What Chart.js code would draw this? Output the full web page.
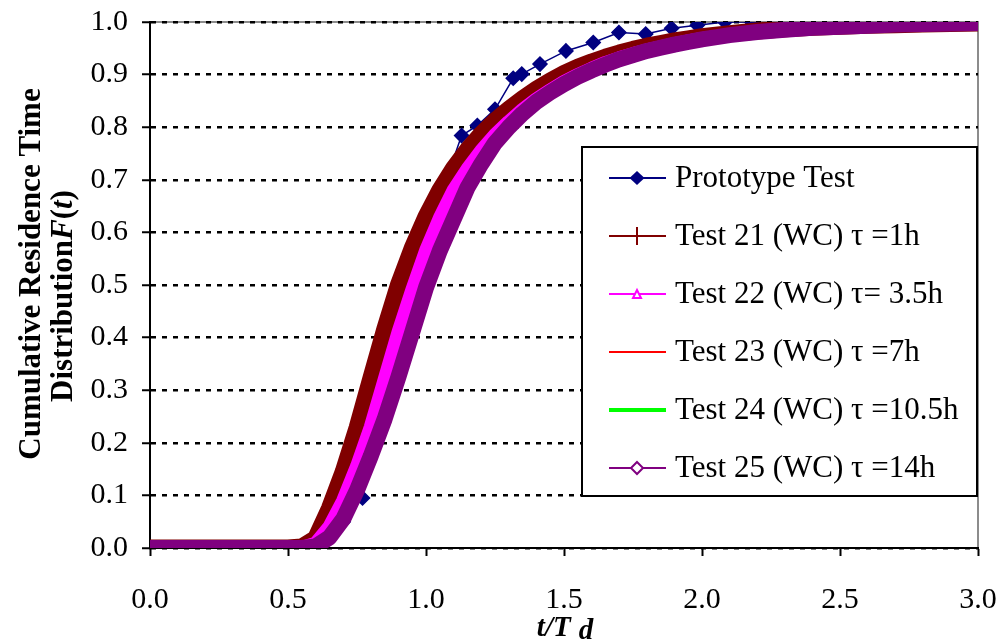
<!DOCTYPE html>
<html>
<head>
<meta charset="utf-8">
<script src="https://cdn.jsdelivr.net/npm/chart.js@4.4.1/dist/chart.umd.min.js"></script>
<style>
  html, body { margin: 0; padding: 0; background: #fff; }
  #rtd { display: block; }
</style>
</head>
<body>
<canvas id="rtd" width="1002" height="641"></canvas>
<script>
/* Cumulative residence time distribution F(t) vs t/Td */
const xTicks = [0, 0.5, 1.0, 1.5, 2.0, 2.5, 3.0];
const yTicks = [0, 0.1, 0.2, 0.3, 0.4, 0.5, 0.6, 0.7, 0.8, 0.9, 1.0];

// prototype measurements
const protoX = [0, 0.5, 0.6, 0.7, 0.77, 0.82, 0.88, 0.95, 1.0, 1.06, 1.129, 1.186, 1.25, 1.316, 1.347, 1.413, 1.507, 1.606, 1.699, 1.796, 1.89, 1.983, 2.083, 2.18];
const protoY = [0, 0, 0.01, 0.05, 0.095, 0.24, 0.35, 0.47, 0.57, 0.68, 0.784, 0.803, 0.834, 0.893, 0.901, 0.92, 0.945, 0.961, 0.98, 0.977, 0.988, 0.994, 1.0, 1.0];

// model curves (water column tests), shared t/Td values
const modelX = [0, 0.1, 0.2, 0.3, 0.4, 0.5, 0.55, 0.6, 0.65, 0.7, 0.75, 0.8, 0.85, 0.9, 0.95, 1.0, 1.05, 1.1, 1.15, 1.2, 1.25, 1.3, 1.35, 1.4, 1.45, 1.5, 1.55, 1.6, 1.65, 1.7, 1.75, 1.8, 1.85, 1.9, 1.95, 2.0, 2.1, 2.2, 2.3, 2.4, 2.5, 2.6, 2.7, 2.8, 2.9, 3.0];
const test21 = [0, 0, 0, 0, 0, 0, 0.002, 0.018, 0.075, 0.145, 0.228, 0.322, 0.415, 0.5, 0.57, 0.63, 0.68, 0.722, 0.757, 0.787, 0.812, 0.834, 0.854, 0.872, 0.888, 0.902, 0.914, 0.924, 0.933, 0.941, 0.948, 0.954, 0.959, 0.964, 0.968, 0.972, 0.978, 0.983, 0.987, 0.99, 0.992, 0.994, 0.995, 0.996, 0.997, 0.998];
const test22 = [0, 0, 0, 0, 0, 0, 0, 0.008, 0.04, 0.09, 0.155, 0.23, 0.32, 0.41, 0.49, 0.565, 0.627, 0.68, 0.72, 0.755, 0.785, 0.81, 0.833, 0.853, 0.87, 0.886, 0.899, 0.911, 0.922, 0.931, 0.939, 0.946, 0.952, 0.958, 0.963, 0.968, 0.975, 0.981, 0.985, 0.989, 0.991, 0.993, 0.995, 0.996, 0.997, 0.998];
const test23 = [0, 0, 0, 0, 0, 0, 0, 0.005, 0.027, 0.067, 0.125, 0.193, 0.27, 0.353, 0.437, 0.518, 0.586, 0.643, 0.697, 0.738, 0.775, 0.803, 0.828, 0.85, 0.867, 0.883, 0.897, 0.909, 0.92, 0.93, 0.938, 0.945, 0.951, 0.957, 0.962, 0.967, 0.975, 0.981, 0.985, 0.989, 0.991, 0.993, 0.995, 0.996, 0.997, 0.998];
const test24 = [0, 0, 0, 0, 0, 0, 0, 0.004, 0.023, 0.061, 0.117, 0.184, 0.257, 0.339, 0.423, 0.506, 0.575, 0.634, 0.691, 0.734, 0.772, 0.801, 0.827, 0.849, 0.866, 0.882, 0.896, 0.908, 0.919, 0.929, 0.937, 0.945, 0.951, 0.957, 0.962, 0.967, 0.975, 0.981, 0.985, 0.989, 0.991, 0.993, 0.995, 0.996, 0.997, 0.998];
const test25 = [0, 0, 0, 0, 0, 0, 0, 0.003, 0.02, 0.055, 0.11, 0.175, 0.245, 0.325, 0.41, 0.495, 0.565, 0.625, 0.685, 0.73, 0.77, 0.8, 0.826, 0.848, 0.866, 0.882, 0.896, 0.908, 0.919, 0.929, 0.937, 0.945, 0.951, 0.957, 0.962, 0.967, 0.975, 0.981, 0.985, 0.989, 0.991, 0.993, 0.995, 0.996, 0.997, 0.998];

const seriesLabels = [
  'Prototype Test',
  'Test 21 (WC) \u03C4 =1h',
  'Test 22 (WC) \u03C4= 3.5h',
  'Test 23 (WC) \u03C4 =7h',
  'Test 24 (WC) \u03C4 =10.5h',
  'Test 25 (WC) \u03C4 =14h'
];

const toPoints = (xs, ys) => xs.map((x, i) => ({ x: x, y: ys[i] }));

const SERIF = '"Liberation Serif", "Times New Roman", serif';

function bandSet(label, data, color, width, order, marker) {
  return {
    label: label,
    data: toPoints(modelX, data),
    borderColor: color,
    backgroundColor: color,
    borderWidth: width,
    borderJoinStyle: 'round',
    pointRadius: 0,
    showLine: true,
    tension: 0,
    order: order,
    marker: marker
  };
}

const datasets = [
  {
    label: seriesLabels[0],
    data: toPoints(protoX, protoY),
    borderColor: '#000080',
    backgroundColor: '#000080',
    borderWidth: 1.5,
    pointStyle: 'rectRot',
    pointRadius: 7,
    showLine: true,
    order: 6,
    marker: 'diamond'
  },
  bandSet(seriesLabels[1], test21, '#800000', 17, 5, 'plus'),
  bandSet(seriesLabels[2], test22, '#FF00FF', 14, 4, 'triangle'),
  bandSet(seriesLabels[3], test23, '#FF0000', 1.5, 3, 'none'),
  bandSet(seriesLabels[4], test24, '#00FF00', 4, 2, 'none'),
  bandSet(seriesLabels[5], test25, '#800080', 16, 1, 'openDiamond')
];

// legend box inside plot (drawn by hand, Excel style)
const legendBox = { left: 582, top: 147, right: 977, bottom: 496, rowTop: 178, rowGap: 58 };

function drawMarker(ctx, kind, x, y, color) {
  ctx.save();
  ctx.strokeStyle = color;
  ctx.fillStyle = color;
  ctx.lineWidth = 2;
  if (kind === 'diamond') {
    ctx.beginPath();
    ctx.moveTo(x, y - 7); ctx.lineTo(x + 7.5, y); ctx.lineTo(x, y + 7); ctx.lineTo(x - 7.5, y);
    ctx.closePath(); ctx.fill();
  } else if (kind === 'plus') {
    ctx.beginPath();
    ctx.moveTo(x, y - 9); ctx.lineTo(x, y + 9);
    ctx.moveTo(x - 9, y); ctx.lineTo(x + 9, y);
    ctx.stroke();
  } else if (kind === 'triangle') {
    ctx.fillStyle = '#fff';
    ctx.beginPath();
    ctx.moveTo(x, y - 4); ctx.lineTo(x + 4, y + 4); ctx.lineTo(x - 4, y + 4);
    ctx.closePath(); ctx.fill(); ctx.stroke();
  } else if (kind === 'openDiamond') {
    ctx.fillStyle = '#fff';
    ctx.beginPath();
    ctx.moveTo(x, y - 6); ctx.lineTo(x + 6, y); ctx.lineTo(x, y + 6); ctx.lineTo(x - 6, y);
    ctx.closePath(); ctx.fill(); ctx.stroke();
  }
  ctx.restore();
}

// draws runs of text with different fonts one after another
function drawRuns(ctx, runs, x, y, align) {
  let total = 0;
  runs.forEach(r => { ctx.font = r.font; total += ctx.measureText(r.text).width + (r.gap || 0); });
  let cx = align === 'center' ? x - total / 2 : x;
  ctx.textAlign = 'left';
  runs.forEach(r => {
    ctx.font = r.font;
    ctx.fillText(r.text, cx, y + (r.dy || 0));
    cx += ctx.measureText(r.text).width + (r.gap || 0);
  });
}

const decorations = {
  id: 'decorations',
  beforeDraw(chart) {
    const { ctx, chartArea: a } = chart;
    ctx.save();
    ctx.fillStyle = '#fff';
    ctx.fillRect(0, 0, chart.width, chart.height);
    ctx.strokeStyle = '#8c8c8c';
    ctx.lineWidth = 2;
    ctx.beginPath();
    ctx.moveTo(a.left, a.top);
    ctx.lineTo(a.right, a.top);
    ctx.lineTo(a.right, a.bottom);
    ctx.stroke();
    ctx.restore();
  },
  afterDraw(chart) {
    const ctx = chart.ctx;
    const b = legendBox;
    ctx.save();
    // legend
    ctx.fillStyle = '#fff';
    ctx.fillRect(b.left, b.top, b.right - b.left, b.bottom - b.top);
    ctx.strokeStyle = '#000';
    ctx.lineWidth = 2;
    ctx.strokeRect(b.left, b.top, b.right - b.left, b.bottom - b.top);
    chart.data.datasets.forEach((ds, i) => {
      const y = b.rowTop + i * b.rowGap;
      ctx.strokeStyle = ds.borderColor;
      ctx.lineWidth = ds.label.indexOf('10.5h') > 0 ? 4 : 2;
      ctx.beginPath();
      ctx.moveTo(609, y); ctx.lineTo(666, y);
      ctx.stroke();
      drawMarker(ctx, ds.marker, 637, y, ds.borderColor);
      ctx.fillStyle = '#000';
      ctx.font = '31px ' + SERIF;
      ctx.textAlign = 'left';
      ctx.textBaseline = 'middle';
      ctx.fillText(ds.label, 675, y + 1);
    });

    // axis titles
    ctx.fillStyle = '#000';
    ctx.textBaseline = 'alphabetic';
    const bold = 'bold 31px ' + SERIF;
    const boldIt = 'italic bold 31px ' + SERIF;
    drawRuns(ctx, [
      { text: 't/T', font: 'italic bold 29px ' + SERIF, gap: 8 },
      { text: 'd', font: 'italic bold 29px ' + SERIF, dy: 3 }
    ], 565, 636, 'center');

    ctx.save();
    ctx.translate(40, 274);
    ctx.rotate(-Math.PI / 2);
    ctx.font = bold;
    ctx.textAlign = 'center';
    ctx.fillText('Cumulative Residence Time', 0, 0);
    ctx.restore();

    ctx.save();
    ctx.translate(72, 296);
    ctx.rotate(-Math.PI / 2);
    drawRuns(ctx, [
      { text: 'Distribution', font: bold },
      { text: 'F', font: boldIt },
      { text: '(', font: bold },
      { text: 't', font: boldIt },
      { text: ')', font: bold }
    ], 0, 0, 'center');
    ctx.restore();
    ctx.restore();
  }
};

// keep tick labels from pushing the plot area in
const noLabelPadding = s => {
  s.paddingLeft = 0; s.paddingRight = 0; s.paddingTop = 0; s.paddingBottom = 0;
};

new Chart(document.getElementById('rtd'), {
  type: 'scatter',
  data: { datasets: datasets },
  plugins: [decorations],
  options: {
    responsive: false,
    animation: false,
    devicePixelRatio: 1,
    layout: { padding: { top: 22, right: 24, left: 0, bottom: 0 } },
    plugins: { legend: { display: false }, tooltip: { enabled: false } },
    scales: {
      x: {
        type: 'linear',
        min: 0,
        max: 3,
        afterBuildTicks: s => { s.ticks = xTicks.map(v => ({ value: v })); },
        afterFit: s => { s.height = 93; noLabelPadding(s); },
        ticks: {
          callback: v => v.toFixed(1),
          color: '#000',
          font: { family: SERIF, size: 30 },
          padding: 26,
          maxRotation: 0
        },
        grid: { drawOnChartArea: false, drawTicks: true, tickLength: 8, tickColor: '#000', tickWidth: 2 },
        border: { color: '#000', width: 2 }
      },
      y: {
        type: 'linear',
        min: 0,
        max: 1,
        afterBuildTicks: s => { s.ticks = yTicks.map(v => ({ value: v })); },
        afterFit: s => { s.width = 150; noLabelPadding(s); },
        ticks: {
          callback: v => v.toFixed(1),
          color: '#000',
          font: { family: SERIF, size: 30 },
          padding: 14
        },
        grid: { color: '#000', lineWidth: 2.5, tickLength: 8, tickColor: '#000', tickWidth: 2 },
        border: { color: '#000', width: 2, dash: [5, 6] }
      }
    }
  }
});
</script>
</body>
</html>
